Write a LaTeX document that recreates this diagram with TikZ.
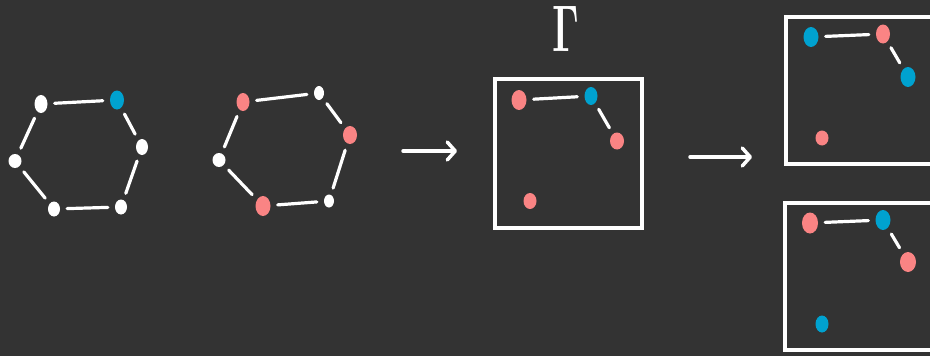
\documentclass[tikz,border=0pt]{standalone}
\usetikzlibrary{shapes.geometric,arrows.meta}
\definecolor{bg}{RGB}{51,51,51}
\definecolor{pk}{RGB}{250,132,132}
\definecolor{bl}{RGB}{0,162,208}
\begin{document}
\begin{tikzpicture}[x=1pt,y=-1pt,
  vw/.style={ellipse,fill=white,inner sep=0pt,minimum width=12pt,minimum height=15pt},
  vp/.style={ellipse,fill=pk,inner sep=0pt,minimum width=14pt,minimum height=18pt},
  vb/.style={ellipse,fill=bl,inner sep=0pt,minimum width=14pt,minimum height=18pt},
  edg/.style={white,line width=3.2pt,line cap=round,shorten <=7pt,shorten >=7pt},
  frame/.style={draw=white,line width=3.5pt,inner sep=0pt},
  arr/.style={white,line width=3.5pt,line cap=round,-{Straight Barb[length=8pt,width=18pt,line cap=round,line join=round]}}]
\fill[bg] (0,0) rectangle (930,356);
\useasboundingbox (0,0) rectangle (930,356);
% hexagon 1
\node[vw,minimum width=13pt,minimum height=18pt] (a1) at (41,104) {};
\node[vb,minimum width=14pt,minimum height=19pt] (a2) at (117,100) {};
\node[vw,minimum height=16pt] (a3) at (142,147) {};
\node[vw,minimum width=13pt,minimum height=14pt] (a4) at (15,161) {};
\node[vw] (a5) at (54,209) {};
\node[vw] (a6) at (121,207) {};
\draw[edg] (a1) -- (a2);
\draw[edg] (a2) -- (a3);
\draw[edg] (a3) -- (a6);
\draw[edg] (a6) -- (a5);
\draw[edg] (a5) -- (a4);
\draw[edg] (a4) -- (a1);
% hexagon 2
\node[vp,minimum width=13pt,minimum height=18pt] (b1) at (243,102) {};
\node[vw,minimum width=10pt,minimum height=14pt] (b2) at (319,93) {};
\node[vp] (b3) at (350,135) {};
\node[vw,minimum width=13pt,minimum height=14pt] (b4) at (219,160) {};
\node[vp,minimum width=15pt,minimum height=20pt] (b5) at (263,206) {};
\node[vw,minimum width=10pt,minimum height=13pt] (b6) at (329,201) {};
\draw[edg] (b1) -- (b2);
\draw[edg] (b2) -- (b3);
\draw[edg] (b3) -- (b6);
\draw[edg] (b6) -- (b5);
\draw[edg] (b5) -- (b4);
\draw[edg] (b4) -- (b1);
% arrows
\coordinate (r1s) at (403,151);
\coordinate (r1e) at (457,151);
\coordinate (r2s) at (690,157);
\coordinate (r2e) at (752,157);
\draw[arr] (r1s) -- (r1e);
\draw[arr] (r2s) -- (r2e);
% middle box
\node[frame,minimum width=147pt,minimum height=149pt] (f1) at (568.5,153.5) {};
\node[white,inner sep=0pt] (gam) at (566,29) {\scalebox{0.6}[1]{\fontsize{66}{66}\selectfont\bfseries Γ}};
\node[vp,minimum width=15pt,minimum height=20pt] (c1) at (519,100) {};
\node[vb,minimum width=13pt,minimum height=18pt] (c2) at (591,96) {};
\node[vp,minimum width=14pt,minimum height=17pt] (c3) at (617,141) {};
\node[vp,minimum width=13pt,minimum height=16pt] (c4) at (530,201) {};
\draw[edg] (c1) -- (c2);
\draw[edg] (c2) -- (c3);
% right boxes
\node[frame,minimum width=160pt,minimum height=147pt] (f2) at (866,90.5) {};
\node[vb,minimum width=15pt,minimum height=20pt] (d1) at (811,37) {};
\node[vp,minimum width=14pt,minimum height=19pt] (d2) at (883,34) {};
\node[vb,minimum width=15pt,minimum height=20pt] (d3) at (908,77) {};
\node[vp,minimum width=13pt,minimum height=15pt] (d4) at (822,138) {};
\draw[edg] (d1) -- (d2);
\draw[edg] (d2) -- (d3);
\node[frame,minimum width=160pt,minimum height=147pt] (f3) at (865,276.5) {};
\node[vp,minimum width=16pt,minimum height=21pt] (e1) at (810,223) {};
\node[vb,minimum width=15pt,minimum height=20pt] (e2) at (883,220) {};
\node[vp,minimum width=16pt,minimum height=20pt] (e3) at (908,262) {};
\node[vb,minimum width=13pt,minimum height=17pt] (e4) at (822,324) {};
\draw[edg] (e1) -- (e2);
\draw[edg] (e2) -- (e3);
\end{tikzpicture}
\end{document}
